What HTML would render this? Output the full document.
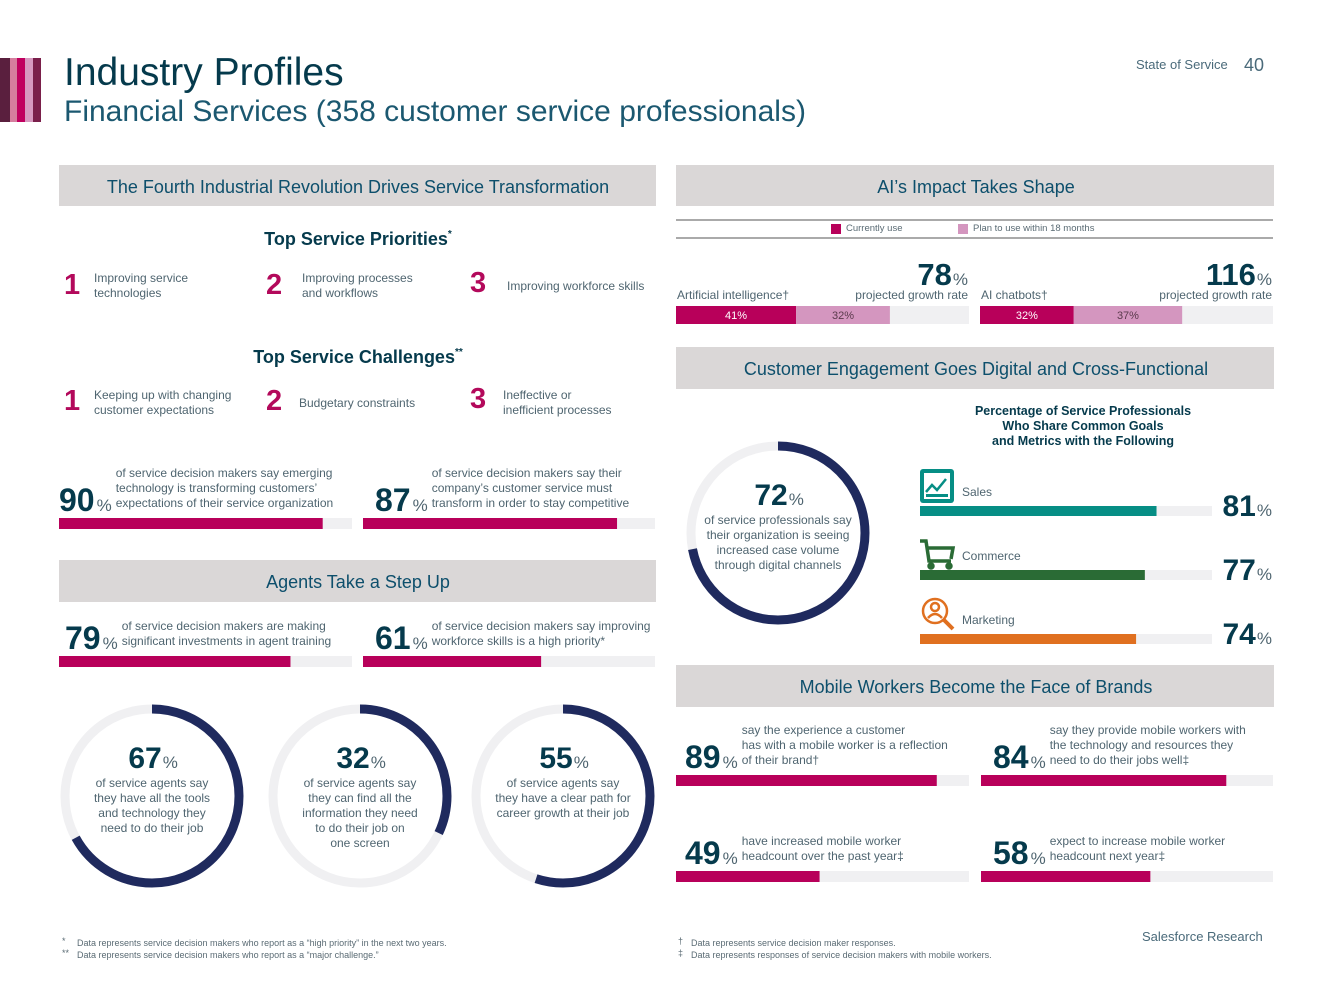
<!DOCTYPE html>
<html><head><meta charset="utf-8"><style>
html,body{margin:0;padding:0;background:#fff;}
svg{display:block;font-family:"Liberation Sans",sans-serif;}
.t{fill:#4f6570;font-size:12px;}
.big{fill:#053a4c;font-weight:bold;}
.pc{fill:#4f6570;font-size:17px;}
.ban{fill:#0d4f6c;font-size:18px;text-anchor:middle;}
.num{fill:#b3095b;font-size:29px;font-weight:bold;}
.hd{fill:#053a4c;font-size:18px;font-weight:bold;text-anchor:middle;}
.ct{fill:#4f6570;font-size:12px;text-anchor:middle;}
</style></head><body>
<svg id="page" width="1333" height="1000" viewBox="0 0 1333 1000">
<g>
<rect x="0" y="58" width="10" height="64" fill="#5a1f3e"/><rect x="10" y="58" width="7" height="64" fill="#d67d9e"/>
<rect x="17" y="58" width="8" height="64" fill="#c0005f"/><rect x="25" y="58" width="8" height="64" fill="#d799c0"/>
<rect x="33" y="58" width="8" height="64" fill="#7a1f4a"/></g>
<text x="64" y="85" font-size="39" fill="#053a4c">Industry Profiles</text>
<text x="64" y="121" font-size="30" fill="#1b5870">Financial Services (358 customer service professionals)</text>
<text x="1136" y="69" font-size="13" fill="#4a6a7a">State of Service</text>
<text x="1244" y="71" font-size="18" fill="#4a6a7a">40</text>

<g>
<rect x="59" y="165" width="597" height="41" fill="#dad7d7"/><text class="ban" x="358" y="193">The Fourth Industrial Revolution Drives Service Transformation</text>
<rect x="676" y="165" width="598" height="41" fill="#dad7d7"/><text class="ban" x="976" y="193">AI’s Impact Takes Shape</text>
<rect x="676" y="347" width="598" height="42" fill="#dad7d7"/><text class="ban" x="976" y="375">Customer Engagement Goes Digital and Cross-Functional</text>
<rect x="59" y="560" width="597" height="42" fill="#dad7d7"/><text class="ban" x="358" y="588">Agents Take a Step Up</text>
<rect x="676" y="665" width="598" height="42" fill="#dad7d7"/><text class="ban" x="976" y="693">Mobile Workers Become the Face of Brands</text>
</g>

<text class="hd" x="358" y="245">Top Service Priorities<tspan font-size="10" dy="-8">*</tspan></text>
<g>
<text class="num" x="64" y="294">1</text><text class="t" x="94" y="282">Improving service</text><text class="t" x="94" y="297">technologies</text>
<text class="num" x="266" y="294">2</text><text class="t" x="302" y="282">Improving processes</text><text class="t" x="302" y="297">and workflows</text>
<text class="num" x="470" y="292">3</text><text class="t" x="507" y="290">Improving workforce skills</text>
</g>
<text class="hd" x="358" y="363">Top Service Challenges<tspan font-size="10" dy="-8">**</tspan></text>
<g>
<text class="num" x="64" y="410">1</text><text class="t" x="94" y="399">Keeping up with changing</text><text class="t" x="94" y="414">customer expectations</text>
<text class="num" x="266" y="410">2</text><text class="t" x="299" y="407">Budgetary constraints</text>
<text class="num" x="470" y="408">3</text><text class="t" x="503" y="399">Ineffective or</text><text class="t" x="503" y="414">inefficient processes</text>
</g>

<g id="stats"></g>

<g>
<line x1="676" y1="220" x2="1273" y2="220" stroke="#555" stroke-width="1"/>
<line x1="676" y1="238" x2="1273" y2="238" stroke="#555" stroke-width="1"/>
<rect x="831" y="224" width="10" height="10" fill="#b8005a"/><text x="846" y="231" font-size="9.5" fill="#5a6b74">Currently use</text>
<rect x="958" y="224" width="10" height="10" fill="#d496bf"/><text x="973" y="231" font-size="9.5" fill="#5a6b74">Plan to use within 18 months</text>
</g>
<g id="ai"></g>

<text x="1083" y="415" font-size="12.5" font-weight="bold" fill="#053a4c" text-anchor="middle"><tspan x="1083">Percentage of Service Professionals</tspan><tspan x="1083" dy="15">Who Share Common Goals</tspan><tspan x="1083" dy="15">and Metrics with the Following</tspan></text>
<g><rect x="920" y="469" width="34" height="34" rx="3" fill="#068e85"/><rect x="924" y="473" width="26" height="26" fill="#fff"/><polyline points="926,492 932,485 937,490 946,479" fill="none" stroke="#068e85" stroke-width="2.5"/><rect x="926" y="494" width="22" height="3" fill="#068e85"/></g>
<g fill="none" stroke="#2a6b35" stroke-width="3.5"><polyline points="920,541 926,541 929,561 951,561"/><polyline points="927,548 953,548 951,559"/><circle cx="931" cy="566" r="2" fill="#2a6b35"/><circle cx="949" cy="566" r="2" fill="#2a6b35"/></g>
<g fill="none" stroke="#e07020" stroke-width="2.5"><circle cx="935" cy="611" r="12"/><circle cx="935" cy="607" r="4"/><path d="M928 618 q7-8 14 0"/><line x1="944" y1="620" x2="953" y2="629" stroke-width="4"/></g>
<g id="eng"></g>
<g id="donuts"></g>

<g font-size="9" fill="#5a6b74">
<text x="62" y="944">*</text><text x="77" y="946">Data represents service decision makers who report as a “high priority” in the next two years.</text>
<text x="62" y="956">**</text><text x="77" y="958">Data represents service decision makers who report as a “major challenge.”</text></g>
<g font-size="9" fill="#5a6b74">
<text x="678" y="944">†</text><text x="691" y="946">Data represents service decision maker responses.</text>
<text x="678" y="956">‡</text><text x="691" y="958">Data represents responses of service decision makers with mobile workers.</text></g>
<text x="1142" y="941" font-size="13" fill="#4a6a7a">Salesforce Research</text>
</svg>
<script>
// stat bar data
const statValues=[90,87,79,61,89,84,49,58];
const statLabels=[
["of service decision makers say emerging","technology is transforming customers’","expectations of their service organization"],
["of service decision makers say their","company’s customer service must","transform in order to stay competitive"],
["of service decision makers are making","significant investments in agent training"],
["of service decision makers say improving","workforce skills is a high priority*"],
["say the experience a customer","has with a mobile worker is a reflection","of their brand†"],
["say they provide mobile workers with","the technology and resources they","need to do their jobs well‡"],
["have increased mobile worker","headcount over the past year‡"],
["expect to increase mobile worker","headcount next year‡"]];
// AI data
const aiCategories=["Artificial intelligence†","AI chatbots†"];
const aiCurrent=[41,32];
const aiPlanned=[32,37];
const aiGrowth=[78,116];
// engagement data
const engCategories=["Sales","Commerce","Marketing"];
const engValues=[81,77,74];
// donut data
const donutValues=[72,67,32,55];
const donutLabels=[
["of service professionals say","their organization is seeing","increased case volume","through digital channels"],
["of service agents say","they have all the tools","and technology they","need to do their job"],
["of service agents say","they can find all the","information they need","to do their job on","one screen"],
["of service agents say","they have a clear path for","career growth at their job"]];

const NS="http://www.w3.org/2000/svg";
function mk(parent,tag,attrs,txt){const e=document.createElementNS(NS,tag);for(const k in attrs)e.setAttribute(k,attrs[k]);if(txt!=null)e.textContent=txt;parent.appendChild(e);return e;}
const scale=(x0,w)=>v=>x0+w*v/100;

// stat bars
const statSlots=[[59,293,518],[363,292,518],[59,293,656],[363,292,656],[676,293,775],[981,292,775],[676,293,871],[981,292,871]];
const sg=document.getElementById('stats');
statValues.forEach((v,i)=>{
 const [x,w,y]=statSlots[i];const sx=scale(x,w);
 const g=mk(sg,'g',{});
 
 
 mk(g,'rect',{x:x,y:y,width:w,height:11,fill:'#f0f0f2'});
 const b=mk(g,'rect',{x:x,y:y,width:sx(v)-x,height:11,fill:'#b8005a'});
 
 
 const lines=statLabels[i];const lh=15;const baseY=y-7;
 const nx=x+(i==0?0:(i==2?6:(i%2==0?9:12)));
 const t=mk(g,'text',{x:nx,y:baseY,'font-size':32,class:'big'},String(v));
 const tw=t.getComputedTextLength();
 const p=mk(g,'text',{x:nx+tw+2,y:baseY,class:'pc'},'%');
 const pw=p.getComputedTextLength();
 const lx=nx+tw+pw+6;
 lines.forEach((s,j)=>mk(g,'text',{x:lx,y:baseY-4-(lines.length-1-j)*lh,class:'t'},s));
});

// AI bars
const ag=document.getElementById('ai');
const aiSlots=[[676,293],[980,293]];
aiCategories.forEach((c,i)=>{
 const [x,w]=aiSlots[i];const sx=scale(x,w);const y=306;
 mk(ag,'rect',{x:x,y:y,width:w,height:18,fill:'#f0f0f2'});
 const a=mk(ag,'rect',{x:x,y:y,width:sx(aiCurrent[i])-x,height:18,fill:'#b8005a'});
 
 
 const p=mk(ag,'rect',{x:sx(aiCurrent[i]),y:y,width:sx(aiCurrent[i]+aiPlanned[i])-sx(aiCurrent[i]),height:18,fill:'#d496bf'});
 
 
 mk(ag,'text',{x:(x+sx(aiCurrent[i]))/2,y:y+13,'font-size':11,fill:'#fff','text-anchor':'middle'},aiCurrent[i]+'%');
 mk(ag,'text',{x:(sx(aiCurrent[i])+sx(aiCurrent[i]+aiPlanned[i]))/2,y:y+13,'font-size':11,fill:'#5a3a4c','text-anchor':'middle'},aiPlanned[i]+'%');
 mk(ag,'text',{x:x+1,y:299,class:'t','font-size':13},c);
 mk(ag,'text',{x:x+w-1,y:299,class:'t','font-size':13,'text-anchor':'end'},'projected growth rate');
 const pt=mk(ag,'text',{x:x+w-1,y:285,class:'pc','text-anchor':'end'},'%');
 mk(ag,'text',{x:x+w-1-pt.getComputedTextLength()-1,y:285,class:'big','font-size':31,'text-anchor':'end'},aiGrowth[i]+'');
});

// engagement bars
const eg=document.getElementById('eng');
const engColors=['#068e85','#2a6b35','#e07020'];
const engY=[506,570,634];
const esx=scale(920,292);
engCategories.forEach((c,i)=>{
 const y=engY[i];
 mk(eg,'rect',{x:920,y:y,width:292,height:10,fill:'#f0f0f2'});
 const b=mk(eg,'rect',{x:920,y:y,width:esx(engValues[i])-920,height:10,fill:engColors[i]});
 
 
 mk(eg,'text',{x:962,y:y-10,class:'t','font-size':13},c);
 const pt=mk(eg,'text',{x:1272,y:y+10,class:'pc','text-anchor':'end'},'%');
 mk(eg,'text',{x:1272-pt.getComputedTextLength()-1,y:y+10,class:'big','font-size':30,'text-anchor':'end'},engValues[i]+'');
});

// donuts
const dg=document.getElementById('donuts');
const dCenters=[[778,533],[152,796],[360,796],[563,796]];
const R=87;
donutValues.forEach((v,i)=>{
 const [cx,cy]=dCenters[i];
 const g=mk(dg,'g',{});
 
 
 mk(g,'circle',{cx:cx,cy:cy,r:R,fill:'none',stroke:'#f0f0f2','stroke-width':9});
 const C=2*Math.PI*R;
 const arc=mk(g,'circle',{cx:cx,cy:cy,r:R,fill:'none',stroke:'#1f2a5e','stroke-width':9,'stroke-dasharray':(C*v/100)+' '+C,transform:'rotate(-90 '+cx+' '+cy+')'});
 
 
 const lines=donutLabels[i];
 const top=cy-28;
 const t=mk(g,'text',{x:0,y:top,class:'big','font-size':30},String(v));
 const tw=t.getComputedTextLength();const pw=14;
 t.setAttribute('x',cx-(tw+pw)/2);
 mk(g,'text',{x:cx-(tw+pw)/2+tw+1,y:top,class:'pc'},'%');
 lines.forEach((s,j)=>mk(g,'text',{x:cx,y:top+19+j*15,class:'ct'},s));
});
</script>
</body></html>
